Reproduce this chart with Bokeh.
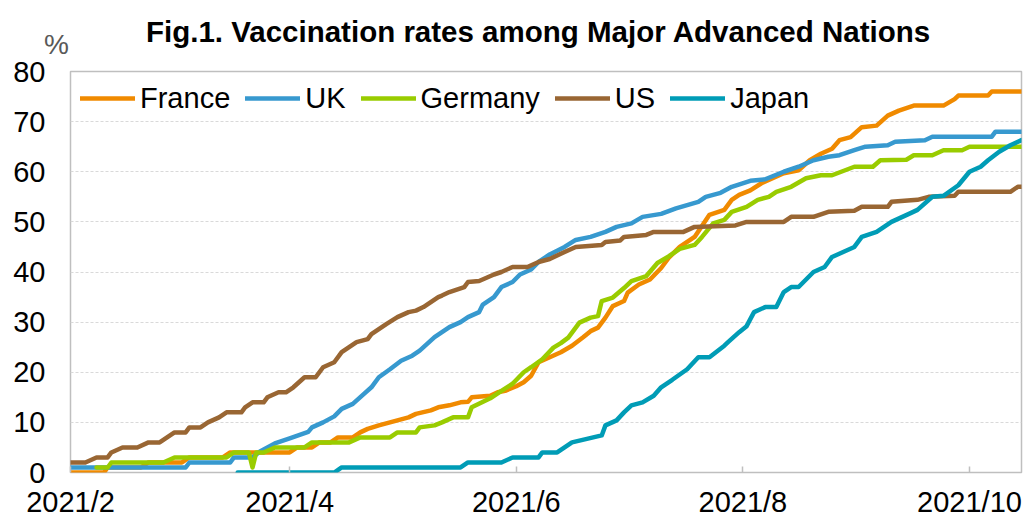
import pandas as pd
from bokeh.plotting import figure
from bokeh.models import Range1d, FixedTicker, LinearAxis
from bokeh.embed import file_html
from bokeh.resources import INLINE

# ---------------- data ----------------
france_dates = ["2021-02-01", "2021-02-10", "2021-02-11", "2021-02-20", "2021-02-22", "2021-03-03",
                "2021-03-05", "2021-03-14", "2021-03-16", "2021-04-01", "2021-04-03", "2021-04-07",
                "2021-04-09", "2021-04-12", "2021-04-14", "2021-04-18", "2021-04-20", "2021-04-22",
                "2021-04-25", "2021-04-28", "2021-05-03", "2021-05-05", "2021-05-09", "2021-05-11",
                "2021-05-14", "2021-05-17", "2021-05-19", "2021-05-20", "2021-05-25", "2021-05-27",
                "2021-05-29", "2021-06-01", "2021-06-03", "2021-06-05", "2021-06-07", "2021-06-10",
                "2021-06-13", "2021-06-16", "2021-06-19", "2021-06-21", "2021-06-23", "2021-06-25",
                "2021-06-27", "2021-06-30", "2021-07-01", "2021-07-04", "2021-07-07", "2021-07-10",
                "2021-07-12", "2021-07-15", "2021-07-19", "2021-07-23", "2021-07-27", "2021-07-29",
                "2021-07-31", "2021-08-03", "2021-08-06", "2021-08-09", "2021-08-12", "2021-08-16",
                "2021-08-19", "2021-08-22", "2021-08-25", "2021-08-27", "2021-08-30", "2021-09-02",
                "2021-09-06", "2021-09-09", "2021-09-12", "2021-09-16", "2021-09-24", "2021-09-27",
                "2021-09-28", "2021-10-06", "2021-10-07", "2021-10-15"]
france_vals = [0, 0, 1, 1, 2, 2,
               3, 3, 4, 4, 5, 5,
               6, 6, 7, 7, 8, 8.7,
               9.4, 10, 11, 11.7, 12.4, 13,
               13.4, 14, 14.1, 15, 15.3, 16,
               16.3, 17.2, 18, 19.3, 22, 23,
               24, 25.3, 27, 28.2, 28.9, 30.9,
               33.2, 34.2, 35.9, 37.5, 38.5, 40.8,
               42.8, 45, 47, 51.4, 52.4, 54.4,
               55.4, 56.3, 57.7, 58.7, 59.7, 60.3,
               62.3, 63.6, 64.6, 66.3, 66.9, 68.9,
               69.2, 71.2, 72.2, 73.2, 73.2, 74.5,
               75.2, 75.2, 76, 76]

uk_dates = ["2021-02-01", "2021-03-04", "2021-03-05", "2021-03-16", "2021-03-17", "2021-03-22",
            "2021-03-24", "2021-03-28", "2021-04-01", "2021-04-06", "2021-04-07", "2021-04-10",
            "2021-04-13", "2021-04-15", "2021-04-18", "2021-04-21", "2021-04-23", "2021-04-25",
            "2021-04-28", "2021-05-01", "2021-05-04", "2021-05-06", "2021-05-10", "2021-05-12",
            "2021-05-14", "2021-05-17", "2021-05-19", "2021-05-22", "2021-05-23", "2021-05-26",
            "2021-05-28", "2021-05-31", "2021-06-02", "2021-06-05", "2021-06-07", "2021-06-10",
            "2021-06-14", "2021-06-17", "2021-06-21", "2021-06-25", "2021-06-28", "2021-07-02",
            "2021-07-05", "2021-07-10", "2021-07-14", "2021-07-20", "2021-07-22", "2021-07-26",
            "2021-07-29", "2021-08-03", "2021-08-07", "2021-08-12", "2021-08-16", "2021-08-20",
            "2021-08-24", "2021-08-27", "2021-08-31", "2021-09-03", "2021-09-09", "2021-09-11",
            "2021-09-19", "2021-09-21", "2021-10-07", "2021-10-08", "2021-10-15"]
uk_vals = [1, 1, 2, 2, 3, 3,
           4.2, 5.8, 6.8, 8.1, 9, 10,
           11.2, 12.7, 13.7, 15.7, 17, 19,
           20.6, 22.3, 23.3, 24.3, 27, 28,
           29, 30, 31, 32, 33.5, 35,
           37, 38, 39.5, 40.5, 42, 43.5,
           45, 46.4, 47, 48, 49, 49.7,
           51, 51.6, 52.7, 54, 55, 55.8,
           57, 58.2, 58.5, 60, 61, 62.3,
           63, 63.3, 64.3, 65, 65.3, 66,
           66.3, 67, 67, 68, 68]

germany_dates = ["2021-02-08", "2021-02-11", "2021-02-12", "2021-02-26", "2021-03-01", "2021-03-15",
                 "2021-03-17", "2021-03-21", "2021-03-22", "2021-03-23", "2021-03-25", "2021-03-28",
                 "2021-04-05", "2021-04-07", "2021-04-17", "2021-04-20", "2021-04-28", "2021-04-30",
                 "2021-05-05", "2021-05-06", "2021-05-10", "2021-05-12", "2021-05-15", "2021-05-19",
                 "2021-05-20", "2021-05-25", "2021-05-28", "2021-05-31", "2021-06-03", "2021-06-05",
                 "2021-06-08", "2021-06-11", "2021-06-13", "2021-06-15", "2021-06-18", "2021-06-21",
                 "2021-06-23", "2021-06-24", "2021-06-27", "2021-06-30", "2021-07-02", "2021-07-06",
                 "2021-07-09", "2021-07-12", "2021-07-15", "2021-07-19", "2021-07-21", "2021-07-24",
                 "2021-07-27", "2021-07-29", "2021-08-02", "2021-08-05", "2021-08-08", "2021-08-10",
                 "2021-08-14", "2021-08-18", "2021-08-22", "2021-08-25", "2021-08-31", "2021-09-05",
                 "2021-09-07", "2021-09-14", "2021-09-16", "2021-09-21", "2021-09-24", "2021-09-29",
                 "2021-10-01", "2021-10-15"]
germany_vals = [1, 1, 2, 2, 3, 3,
                4, 4, 1, 4, 4, 5,
                5, 6, 6, 7, 7, 8,
                8, 9, 9.4, 10, 11, 11,
                13, 14.8, 16.3, 17.7, 20, 21,
                22.6, 24.9, 25.8, 26.9, 29.9, 30.9,
                31.2, 34.2, 34.9, 36.8, 38.2, 39.2,
                41.8, 43.1, 44.6, 45.4, 47, 49.7,
                50.4, 52, 53, 54.4, 55, 56,
                57, 58.7, 59.3, 59.3, 61, 61,
                62.3, 62.4, 63.3, 63.3, 64.3, 64.3,
                65, 65]

us_dates = ["2021-02-01", "2021-02-05", "2021-02-08", "2021-02-11", "2021-02-12", "2021-02-15",
            "2021-02-19", "2021-02-22", "2021-02-25", "2021-02-27", "2021-03-01", "2021-03-04",
            "2021-03-05", "2021-03-08", "2021-03-10", "2021-03-13", "2021-03-15", "2021-03-19",
            "2021-03-20", "2021-03-22", "2021-03-25", "2021-03-26", "2021-03-29", "2021-03-31",
            "2021-04-02", "2021-04-05", "2021-04-08", "2021-04-10", "2021-04-13", "2021-04-15",
            "2021-04-19", "2021-04-22", "2021-04-23", "2021-04-27", "2021-04-30", "2021-05-03",
            "2021-05-05", "2021-05-07", "2021-05-11", "2021-05-12", "2021-05-14", "2021-05-18",
            "2021-05-19", "2021-05-22", "2021-05-26", "2021-05-28", "2021-05-31", "2021-06-04",
            "2021-06-07", "2021-06-10", "2021-06-14", "2021-06-17", "2021-06-24", "2021-06-25",
            "2021-06-29", "2021-06-30", "2021-07-06", "2021-07-08", "2021-07-16", "2021-07-19",
            "2021-07-30", "2021-08-02", "2021-08-12", "2021-08-14", "2021-08-20", "2021-08-24",
            "2021-08-31", "2021-09-02", "2021-09-09", "2021-09-10", "2021-09-17", "2021-09-20",
            "2021-09-27", "2021-09-28", "2021-10-12", "2021-10-14", "2021-10-15"]
us_vals = [2, 2, 3, 3, 4, 5,
           5, 6, 6, 7, 8, 8,
           9, 9, 10, 11, 12, 12,
           13, 14, 14, 15, 16, 16,
           17, 19, 19, 21, 22, 24,
           26, 26.6, 27.6, 29.6, 31, 32,
           32.3, 33, 35, 35.3, 36, 37,
           38, 38.2, 39.5, 40, 41, 41,
           42, 42.6, 44, 45, 45.4, 46,
           46.3, 47, 47.4, 48, 48, 49,
           49.3, 50, 50, 51, 51, 52,
           52.2, 53, 53, 54, 54.4, 55,
           55.2, 56, 56, 57, 57]

japan_dates = ["2021-03-18", "2021-04-13", "2021-04-15", "2021-05-17", "2021-05-19", "2021-05-28",
               "2021-05-31", "2021-06-07", "2021-06-08", "2021-06-12", "2021-06-16", "2021-06-20",
               "2021-06-24", "2021-06-25", "2021-06-28", "2021-06-30", "2021-07-02", "2021-07-05",
               "2021-07-08", "2021-07-10", "2021-07-13", "2021-07-17", "2021-07-20", "2021-07-23",
               "2021-07-27", "2021-07-28", "2021-07-31", "2021-08-02", "2021-08-04", "2021-08-07",
               "2021-08-10", "2021-08-12", "2021-08-14", "2021-08-16", "2021-08-20", "2021-08-23",
               "2021-08-25", "2021-08-28", "2021-08-31", "2021-09-02", "2021-09-06", "2021-09-10",
               "2021-09-15", "2021-09-17", "2021-09-21", "2021-09-24", "2021-09-28", "2021-10-01",
               "2021-10-04", "2021-10-06", "2021-10-09", "2021-10-12", "2021-10-15"]
japan_vals = [0, 0, 1, 1, 2, 2,
              3, 3, 4, 4, 6, 6.7,
              7.4, 9.4, 10.4, 12, 13.4, 14,
              15.3, 17, 18.5, 20.6, 23, 23,
              25.3, 26, 28, 29.2, 32, 33,
              33, 36, 37, 37, 40, 41,
              43, 44, 45, 47, 48, 50,
              51.7, 52.4, 55, 55.2, 57.3, 60,
              61, 62.3, 64, 65.3, 66.3]

series_names = ["France", "UK", "Germany", "US", "Japan"]
series_dates = [france_dates, uk_dates, germany_dates, us_dates, japan_dates]
series_vals = [france_vals, uk_vals, germany_vals, us_vals, japan_vals]
series_colors = ["#F08A00", "#3799CF", "#99CC00", "#996633", "#009CB6"]

x_tick_dates = ["2021-02-01", "2021-04-01", "2021-06-01", "2021-08-01", "2021-10-01"]
x_tick_labels = ["2021/2", "2021/4", "2021/6", "2021/8", "2021/10"]
y_ticks = [0, 10, 20, 30, 40, 50, 60, 70, 80]

x_start, x_end = "2021-02-01", "2021-10-15"
title_text = "Fig.1. Vaccination rates among Major Advanced Nations"
unit_text = "%"
FONT = "Liberation Sans"


def ms(d):
    return pd.Timestamp(d).value / 1e6


p = figure(width=1027, height=520, x_axis_type="datetime",
           output_backend="svg", toolbar_location=None,
           x_range=Range1d(ms(x_start), ms(x_end)), y_range=Range1d(0, 80),
           min_border_left=70, min_border_right=6, min_border_top=71, min_border_bottom=46)

p.background_fill_color = "white"
p.border_fill_color = "white"
p.outline_line_color = "#BFBFBF"
p.outline_line_width = 1.5

# lines
for name, d, v, c in zip(series_names, series_dates, series_vals, series_colors):
    p.line(x=pd.to_datetime(d), y=v, line_color=c, line_width=4.5,
           line_join="round", line_cap="round", legend_label=name)

# y axis
yax = p.left[0]
yax.ticker = FixedTicker(ticks=y_ticks)
yax.major_label_text_font = FONT
yax.major_label_text_font_size = "29px"
yax.major_label_text_color = "black"
yax.major_tick_in = 0
yax.major_tick_out = 0
yax.minor_tick_in = 0
yax.minor_tick_out = 0
yax.axis_line_color = None
yax.major_label_standoff = 25

# bottom x axis
bx = p.below[0]
bx.ticker = FixedTicker(ticks=[ms(d) for d in x_tick_dates])
bx.major_label_overrides = {ms(d): lab for d, lab in zip(x_tick_dates, x_tick_labels)}
bx.major_label_text_font = FONT
bx.major_label_text_font_size = "29px"
bx.major_label_text_color = "black"
bx.major_label_standoff = 13
bx.major_tick_in = 6
bx.major_tick_out = 0
bx.minor_tick_in = 0
bx.minor_tick_out = 0
bx.major_tick_line_color = "#BFBFBF"
bx.major_tick_line_width = 1.5
bx.axis_line_color = None

# top axis: carries the "%" unit mark (as tick label) and the chart title (as axis label)
p.extra_x_ranges = {"ttl": Range1d(0, 1)}
tx = LinearAxis(x_range_name="ttl", ticker=FixedTicker(ticks=[0]),
                major_label_overrides={0: unit_text + "\u2003"})
tx.major_label_text_font = FONT
tx.major_label_text_font_size = "28px"
tx.major_label_text_color = "#595959"
tx.major_label_standoff = 12
tx.major_tick_in = 0
tx.major_tick_out = 0
tx.minor_tick_in = 0
tx.minor_tick_out = 0
tx.axis_line_color = None
tx.axis_label = title_text + "\u2002"
tx.axis_label_text_font = FONT
tx.axis_label_text_font_size = "29.5px"
tx.axis_label_text_font_style = "bold"
tx.axis_label_text_color = "black"
tx.axis_label_standoff = -22
p.add_layout(tx, "above")

# grid
p.xgrid.visible = False
p.ygrid.grid_line_color = "#D9D9D9"
p.ygrid.grid_line_dash = "3 2"
p.ygrid.grid_line_width = 1

# legend
lg = p.legend[0]
lg.location = "top_left"
lg.orientation = "horizontal"
lg.label_text_font = FONT
lg.label_text_font_size = "29px"
lg.label_text_color = "black"
lg.glyph_width = 55
lg.glyph_height = 20
lg.label_height = 34
lg.label_standoff = 5
lg.spacing = 15
lg.margin = 10
lg.padding = 10
lg.border_line_color = None
lg.background_fill_alpha = 0

open("out.html", "w").write(file_html(p, INLINE))
